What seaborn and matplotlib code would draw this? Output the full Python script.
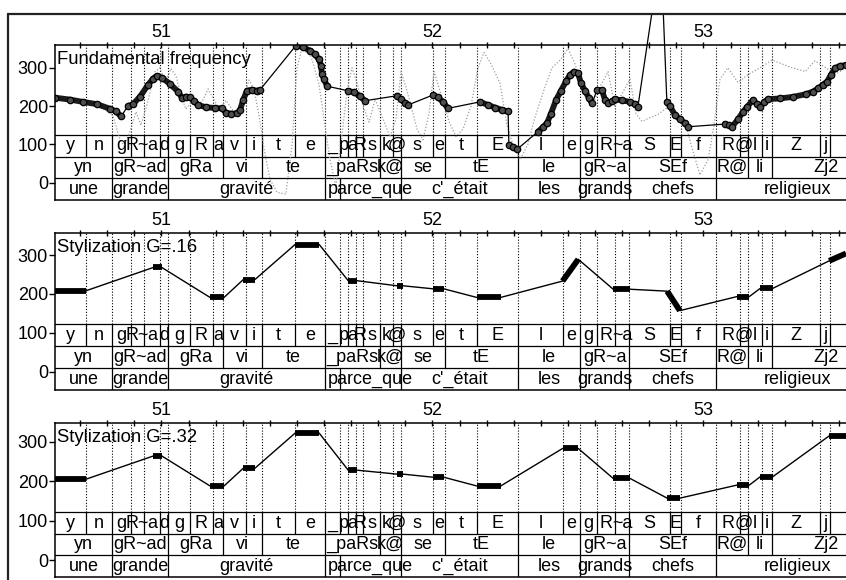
import numpy as np
import pandas as pd
import matplotlib
matplotlib.use("Agg")
import matplotlib.pyplot as plt
import matplotlib.transforms as mtransforms
from matplotlib.lines import Line2D
import seaborn as sns

sns.set_theme(style="white")
plt.rcParams["font.family"] = ["Liberation Sans", "DejaVu Sans"]
plt.rcParams.update({
    "text.color": "black", "axes.labelcolor": "black",
    "xtick.color": "black", "ytick.color": "black",
    "axes.edgecolor": "black",
})

# ---------------------------------------------------------------- data
X_START, X_END = 50.607, 53.526

# phone tier
phones = ["y", "n", "g", "R~", "a", "d", "g", "R", "a", "v", "i", "t", "e",
          "_", "p", "a", "R", "s", "k", "@", "s", "e", "t", "E", "l", "e",
          "g", "R", "~a", "S", "E", "f", "R", "@", "l", "i", "Z", "j", ""]
phone_bounds = [50.607, 50.721, 50.818, 50.886, 50.937, 50.994, 51.025, 51.105,
                51.189, 51.228, 51.311, 51.370, 51.494, 51.603, 51.659, 51.689,
                51.718, 51.745, 51.806, 51.855, 51.883, 52.003, 52.046, 52.163,
                52.317, 52.483, 52.544, 52.607, 52.673, 52.726, 52.876, 52.916,
                53.046, 53.135, 53.165, 53.215, 53.252, 53.430, 53.467, 53.65]

# syllable tier
syllables = ["yn", "gR~ad", "gRa", "vi", "te", "_paRs", "k@", "se", "tE", "le",
             "gR~a", "SEf", "R@", "li", "Zj2"]
syllable_bounds = [50.607, 50.818, 51.025, 51.228, 51.370, 51.603, 51.806, 51.883,
                   52.046, 52.317, 52.544, 52.726, 53.046, 53.165, 53.252, 53.65]

# word tier
words = ["une", "grande", "gravité", "", "parce_que", "c'_était", "les",
         "grands", "chefs", "religieux"]
word_bounds = [50.607, 50.818, 51.025, 51.603, 51.659, 51.883, 52.317, 52.544,
               52.726, 53.046, 53.65]

# measured fundamental frequency (Hz); run = voiced stretch, -1 = octave jump
f0_time = [50.607, 50.662, 50.710, 50.762, 50.810, 50.832, 50.851,
           50.876, 50.895, 50.921, 50.950, 50.969, 50.983, 51.002, 51.031, 51.061,
           51.076, 51.090, 51.105, 51.120, 51.135, 51.164, 51.197, 51.223, 51.238,
           51.256, 51.279, 51.290, 51.301, 51.315, 51.334, 51.352, 51.363,
           51.496, 51.522, 51.548, 51.566, 51.581, 51.589, 51.592, 51.600, 51.611,
           51.688, 51.710, 51.732, 51.751,
           51.869, 51.884, 51.899, 51.910,
           52.002, 52.020, 52.039, 52.057,
           52.175, 52.205, 52.231, 52.257, 52.279,
           52.282, 52.297, 52.312,
           52.389, 52.408, 52.423, 52.437, 52.456, 52.474, 52.493, 52.507, 52.522,
           52.537, 52.548, 52.563, 52.578, 52.589,
           52.607, 52.625, 52.637, 52.648, 52.662, 52.673, 52.699, 52.729, 52.747,
           52.758,
           52.809, 52.852,
           52.865, 52.876, 52.895, 52.913, 52.932, 52.943,
           53.079, 53.094, 53.105, 53.127, 53.146, 53.161, 53.183, 53.197, 53.209,
           53.223, 53.238, 53.282, 53.330, 53.378, 53.404, 53.423, 53.441, 53.456,
           53.471, 53.485, 53.504, 53.526]
f0_hz = [222, 217, 211, 205, 193, 186, 173,
         200, 205, 225, 255, 272, 279, 274, 258, 238,
         221, 225, 223, 212, 203, 197, 195, 194, 183,
         180, 181, 190, 215, 240, 243, 240, 242,
         358, 354, 345, 335, 322, 305, 285, 270, 252,
         240, 236, 226, 214,
         227, 218, 208, 203,
         229, 223, 211, 194,
         211, 203, 196, 190, 186,
         98, 92, 87,
         133, 145, 156, 180, 216, 240, 265, 281, 290,
         286, 260, 240, 220, 207,
         242, 242, 216, 207, 213, 218, 215, 211, 205,
         198,
         440, 440,
         211, 200, 177, 165, 155, 146,
         153, 150, 146, 165, 185, 198, 216, 205, 198,
         210, 218, 220, 224, 231, 238, 246, 256, 264,
         282, 299, 305, 307]
f0_run = ([0] * 7 + [1] * 26 + [2] * 9 + [3] * 4 + [4] * 4 + [5] * 4 + [6] * 5
          + [7] * 3 + [8] * 14 + [9] * 10 + [-1] * 2 + [10] * 6 + [11] * 22)

# raw pitch candidate track (grey dotted)
raw_time = [50.607, 50.699, 50.773, 50.821, 50.843, 50.862, 50.884, 50.906, 50.924,
            50.947, 50.976, 50.994, 51.013, 51.035, 51.054, 51.072, 51.090, 51.116,
            51.149, 51.172, 51.197, 51.216, 51.238, 51.264, 51.290, 51.308, 51.323,
            51.341, 51.360, 51.378, 51.400, 51.426, 51.459, 51.482, 51.500, 51.518,
            51.552, 51.581, 51.603, 51.622, 51.644, 51.662, 51.685, 51.703, 51.721,
            51.744, 51.766, 51.788, 51.810, 51.843, 51.865, 51.884, 51.902, 51.921,
            51.943, 51.965, 51.987, 52.006, 52.031, 52.061, 52.087, 52.113, 52.142,
            52.168, 52.190, 52.216, 52.249, 52.275, 52.297, 52.323, 52.352, 52.378,
            52.415, 52.441, 52.471, 52.500, 52.526, 52.555, 52.589, 52.618, 52.648,
            52.673, 52.699, 52.729, 52.751, 52.773, 52.803, 52.832, 52.858, 52.880,
            52.902, 52.928, 52.954, 52.987, 53.017, 53.039, 53.061, 53.090, 53.127,
            53.164, 53.209, 53.253, 53.319, 53.375, 53.411, 53.448, 53.485, 53.526]
raw_hz = [215, 212, 200, 175, 120, 95, 135, 185, 150,
          205, 290, 300, 262, 298, 278, 228, 192, 215,
          210, 245, 212, 190, 215, 188, 186, 235, 268,
          245, 175, 90, 10, -25, -30, 100, 300, 350,
          330, 258, 150, 60, -10, 100, 240, 300, 262,
          200, 158, 218, 180, 120, 165, 290, 250, 200,
          140, 112, 180, 290, 232, 160, 120, 140, 200,
          300, 340, 310, 260, 150, 100, 60, 100, 170,
          250, 300, 320, 350, 310, 250, 200, 250, 290,
          200, 232, 270, 180, 160, 170, 178, 192, 200,
          180, 170, 100, 20, 60, 150, 270, 300, 262,
          282, 300, 320, 302, 290, 318, 302, 282, 300]

# stylization targets (start/end time in s, start/end Hz)
target_t0 = [50.607, 50.970, 51.179, 51.302, 51.493, 51.689, 51.868, 52.003,
             52.163, 52.480, 52.667, 52.866, 53.123, 53.209, 53.464]
target_t1 = [50.721, 51.001, 51.231, 51.345, 51.582, 51.721, 51.890, 52.042,
             52.252, 52.538, 52.729, 52.913, 53.169, 53.255, 53.526]
g16_start = [208, 268, 191, 237, 327, 234, 221, 213, 191, 233, 212, 207, 193, 214, 285]
g16_end = [208, 268, 191, 237, 327, 234, 221, 213, 191, 289, 212, 157, 193, 214, 304]
g32_start = [205, 264, 188, 233, 322, 228, 218, 210, 188, 283, 207, 157, 190, 211, 315]
g32_end = [205, 264, 188, 233, 322, 228, 218, 210, 188, 283, 207, 157, 190, 211, 315]

second_ticks = [51, 52, 53]
hz_ticks = [0, 100, 200, 300]

# ---------------------------------------------------------------- layout
fig = plt.figure(figsize=(8.46, 5.8), dpi=100)
panel_boxes = [(0.065, 0.6552, 0.935, 0.2672),
               (0.065, 0.3276, 0.935, 0.2707),
               (0.065, 0.0052, 0.935, 0.2655)]
panel_ylims = [(-45.2, 359.5), (-47.0, 356.6), (-43.1, 347.7)]
panel_titles = ["Fundamental frequency", "Stylization G=.16", "Stylization G=.32"]
tier_rows = [0.42, 0.28, 0.14, 0.0]
FS = 13


def setup_axes(ax, ylim):
    ax.set_xlim(X_START, X_END)
    ax.set_ylim(*ylim)
    ax.spines["right"].set_visible(False)
    for side in ("top", "left", "bottom"):
        ax.spines[side].set_linewidth(1.1)
    ax.xaxis.tick_top()
    ax.set_xticks(second_ticks)
    ax.set_xticks(np.round(np.arange(50.7, 53.51, 0.1), 1), minor=True)
    ax.tick_params(axis="x", which="both", direction="inout", length=5, width=1,
                   top=True, bottom=False, labeltop=True, labelbottom=False,
                   labelsize=13, pad=0.5)
    ax.set_yticks(hz_ticks)
    ax.tick_params(axis="y", direction="out", length=4, width=1, left=True,
                   labelsize=13, pad=1)
    ax.set_xlabel("")
    ax.set_ylabel("")


def draw_tiers(ax):
    trans = mtransforms.blended_transform_factory(ax.transData, ax.transAxes)
    # dotted phone boundaries across the pitch area
    for b in phone_bounds[1:-1]:
        ax.plot([b, b], [tier_rows[0], 1.0], transform=trans, color="black",
                lw=0.8, ls=(0, (1, 1.6)))
    tiers = [(phones, phone_bounds), (syllables, syllable_bounds), (words, word_bounds)]
    for i, (labels, bounds) in enumerate(tiers):
        top, bottom = tier_rows[i], tier_rows[i + 1]
        ax.plot([X_START, X_END], [top, top], transform=trans, color="black", lw=0.9)
        for b in bounds[1:-1]:
            if b < X_END:
                ax.plot([b, b], [bottom, top], transform=trans, color="black", lw=0.9)
        for lab, a, b in zip(labels, bounds[:-1], bounds[1:]):
            if lab:
                ax.text((a + b) / 2, (top + bottom) / 2, lab, transform=trans,
                        ha="center", va="center", fontsize=FS)


axes = [fig.add_axes(box) for box in panel_boxes]
for ax, ylim, title in zip(axes, panel_ylims, panel_titles):
    ax.set_facecolor("white")
    draw_tiers(ax)
    ax.text(0.002, 0.905, title, transform=ax.transAxes, ha="left", va="center",
            fontsize=13.3)

# --- panel 1: measured F0
ax = axes[0]
raw = pd.DataFrame({"time": raw_time, "hz": raw_hz})
sns.lineplot(data=raw, x="time", y="hz", sort=False, estimator=None, ax=ax,
             color="0.62", lw=0.9, linestyle=(0, (1, 1.5)))
f0 = pd.DataFrame({"time": f0_time, "hz": f0_hz, "run": f0_run})
sns.lineplot(data=f0, x="time", y="hz", sort=False, estimator=None, ax=ax,
             color="black", lw=0.9, clip_on=False)
for _, grp in f0[f0["run"] >= 0].groupby("run"):
    sns.lineplot(data=grp, x="time", y="hz", sort=False, estimator=None, ax=ax,
                 color="0.1", lw=4.2, marker="o", markersize=4.6,
                 markerfacecolor="0.3", markeredgecolor="black",
                 markeredgewidth=0.9, solid_capstyle="round")


# --- panels 2 and 3: stylized contours
def draw_stylization(ax, f_start, f_end):
    pts_t, pts_f = [], []
    for a, b, fa, fb in zip(target_t0, target_t1, f_start, f_end):
        pts_t += [a, b]
        pts_f += [fa, fb]
    path = pd.DataFrame({"time": pts_t, "hz": pts_f})
    sns.lineplot(data=path, x="time", y="hz", sort=False, estimator=None, ax=ax,
                 color="black", lw=1.0)
    for a, b, fa, fb in zip(target_t0, target_t1, f_start, f_end):
        seg = pd.DataFrame({"time": [a, b], "hz": [fa, fb]})
        sns.lineplot(data=seg, x="time", y="hz", sort=False, estimator=None, ax=ax,
                     color="black", lw=4.2, solid_capstyle="butt")


draw_stylization(axes[1], g16_start, g16_end)
draw_stylization(axes[2], g32_start, g32_end)

for ax, ylim in zip(axes, panel_ylims):
    setup_axes(ax, ylim)

# outer frame
fy = 1 - 14 / 580
fx = 8 / 846
fig.add_artist(Line2D([fx, 1.0], [fy, fy], transform=fig.transFigure,
                      color="#222222", lw=1.6))
fig.add_artist(Line2D([fx, fx], [0.0, fy], transform=fig.transFigure,
                      color="#222222", lw=1.6))

fig.savefig("out.png", dpi=100, facecolor="white")
